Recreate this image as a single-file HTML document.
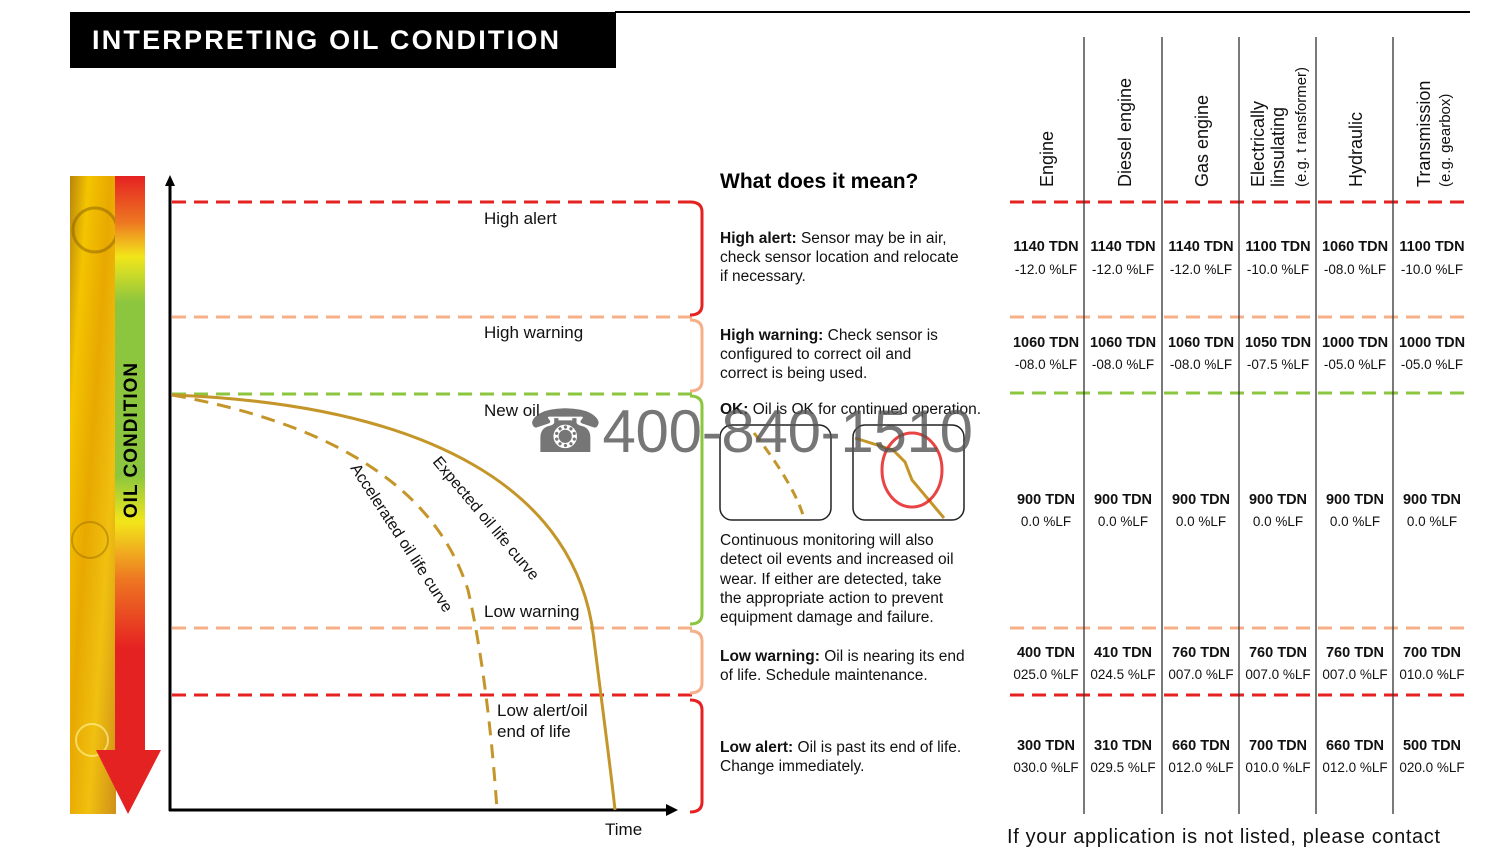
<!DOCTYPE html>
<html><head><meta charset="utf-8"><style>
html,body{margin:0;padding:0;background:#fff;}
svg{display:block;font-family:"Liberation Sans",sans-serif;}
</style></head><body>
<svg width="1497" height="852" viewBox="0 0 1497 852" xmlns="http://www.w3.org/2000/svg">
<defs>
<linearGradient id="oil" x1="0" y1="0" x2="1" y2="1">
<stop offset="0" stop-color="#b8860b"/><stop offset="0.2" stop-color="#f4c400"/><stop offset="0.45" stop-color="#e8a800"/><stop offset="0.7" stop-color="#f0c010"/><stop offset="1" stop-color="#d09018"/>
</linearGradient>
<linearGradient id="bar" x1="0" y1="0" x2="0" y2="1">
<stop offset="0" stop-color="#e52222"/><stop offset="0.08" stop-color="#ee7722"/><stop offset="0.14" stop-color="#f2e61a"/><stop offset="0.22" stop-color="#8cc63f"/><stop offset="0.52" stop-color="#8cc63f"/><stop offset="0.6" stop-color="#f2e61a"/><stop offset="0.7" stop-color="#ee7722"/><stop offset="0.82" stop-color="#e52222"/><stop offset="1" stop-color="#e52222"/>
</linearGradient>
</defs>
<rect x="70" y="12" width="546" height="56" fill="#000"/>
<text x="92" y="49" fill="#fff" font-size="27" font-weight="bold" letter-spacing="2.2">INTERPRETING OIL CONDITION</text>
<line x1="615" y1="12" x2="1470" y2="12" stroke="#000" stroke-width="2"/>
<rect x="70" y="176" width="46" height="638" fill="url(#oil)"/>
<circle cx="95" cy="230" r="22" fill="none" stroke="#8a6000" stroke-width="3" opacity="0.5"/>
<circle cx="90" cy="540" r="18" fill="none" stroke="#8a6000" stroke-width="2" opacity="0.4"/>
<circle cx="92" cy="740" r="16" fill="none" stroke="#fff6a0" stroke-width="2" opacity="0.6"/>
<rect x="115" y="176" width="30" height="576" fill="url(#bar)"/>
<polygon points="96,750 161,750 128,814" fill="#e52222"/>
<text transform="translate(137,440) rotate(-90)" text-anchor="middle" font-size="19" font-weight="bold" letter-spacing="1">OIL CONDITION</text>
<line x1="170" y1="184" x2="170" y2="811" stroke="#000" stroke-width="3"/>
<polygon points="165,186 175,186 170,175" fill="#000"/>
<line x1="169" y1="810" x2="668" y2="810" stroke="#000" stroke-width="3"/>
<polygon points="666,804 666,816 678,810" fill="#000"/>
<g stroke-width="3" stroke-dasharray="14 8" fill="none">
<line x1="172" y1="202" x2="700" y2="202" stroke="#e52222"/>
<line x1="172" y1="317" x2="700" y2="317" stroke="#f5b08a"/>
<line x1="172" y1="394" x2="700" y2="394" stroke="#8cc63f"/>
<line x1="172" y1="628" x2="700" y2="628" stroke="#f5b08a"/>
<line x1="172" y1="695" x2="700" y2="695" stroke="#e52222"/>
<line x1="1010" y1="202" x2="1470" y2="202" stroke="#e52222"/>
<line x1="1010" y1="317" x2="1470" y2="317" stroke="#f5b08a"/>
<line x1="1010" y1="393" x2="1470" y2="393" stroke="#8cc63f"/>
<line x1="1010" y1="628" x2="1470" y2="628" stroke="#f5b08a"/>
<line x1="1010" y1="695" x2="1470" y2="695" stroke="#e52222"/>
</g>
<g fill="none" stroke-width="3">
<path d="M690,202 Q702,202 702,212 L702,305 Q702,315 690,315" stroke="#e52222"/>
<path d="M690,320 Q702,320 702,330 L702,381 Q702,391 690,391" stroke="#f5b08a"/>
<path d="M690,396 Q702,396 702,406 L702,614 Q702,624 690,624" stroke="#8cc63f"/>
<path d="M690,631 Q702,631 702,641 L702,683 Q702,693 690,693" stroke="#f5b08a"/>
<path d="M690,700 Q702,700 702,710 L702,802 Q702,812 690,812" stroke="#e52222"/>
</g>
<path d="M172,395 C430,405 578,490 594,640 C604,720 612,780 615,810" fill="none" stroke="#c4962a" stroke-width="3"/>
<path d="M172,395 C300,418 430,470 468,590 C484,660 493,750 497,810" fill="none" stroke="#c4962a" stroke-width="3" stroke-dasharray="14 9"/>
<g font-size="17" fill="#111">
<text x="484" y="224">High alert</text>
<text x="484" y="338">High warning</text>
<text x="484" y="416">New oil</text>
<text x="484" y="617">Low warning</text>
<text x="497" y="716">Low alert/oil</text>
<text x="497" y="737">end of life</text>
<text x="605" y="835">Time</text>
<text transform="translate(432,462) rotate(50)" font-size="16">Expected oil life curve</text>
<text transform="translate(350,468) rotate(57)" font-size="16">Accelerated oil life curve</text>
</g>
<text x="720" y="188" font-size="21" font-weight="bold">What does it mean?</text>
<g font-size="15.5" fill="#111">
<text x="720" y="243"><tspan font-weight="bold">High alert:</tspan> Sensor may be in air,</text>
<text x="720" y="262">check sensor location and relocate</text>
<text x="720" y="281">if necessary.</text>
<text x="720" y="340"><tspan font-weight="bold">High warning:</tspan> Check sensor is</text>
<text x="720" y="359">configured to correct oil and</text>
<text x="720" y="378">correct is being used.</text>
<text x="720" y="414"><tspan font-weight="bold">OK:</tspan> Oil is OK for continued operation.</text>
<text x="720" y="545">Continuous monitoring will also</text>
<text x="720" y="564">detect oil events and increased oil</text>
<text x="720" y="584">wear. If either are detected, take</text>
<text x="720" y="603">the appropriate action to prevent</text>
<text x="720" y="622">equipment damage and failure.</text>
<text x="720" y="661"><tspan font-weight="bold">Low warning:</tspan> Oil is nearing its end</text>
<text x="720" y="680">of life. Schedule maintenance.</text>
<text x="720" y="752"><tspan font-weight="bold">Low alert:</tspan> Oil is past its end of life.</text>
<text x="720" y="771">Change immediately.</text>
</g>
<rect x="720" y="425" width="111" height="95" rx="12" fill="none" stroke="#222" stroke-width="1.5"/>
<path d="M754,433 C775,460 795,490 803,515" fill="none" stroke="#c4962a" stroke-width="3" stroke-dasharray="10 7"/>
<rect x="853" y="425" width="111" height="95" rx="12" fill="none" stroke="#222" stroke-width="1.5"/>
<path d="M855,438 L893,450 L905,462 L912,480 L944,518" fill="none" stroke="#c4962a" stroke-width="3"/>
<ellipse cx="912" cy="470" rx="30" ry="37" fill="none" stroke="#e52222" stroke-width="3" opacity="0.85"/>
<text x="528" y="452" font-size="60" fill="#555" opacity="0.8" textLength="445">☎400-840-1510</text>
<g stroke="#333" stroke-width="1.3">
<line x1="1084" y1="37" x2="1084" y2="814"/>
<line x1="1162" y1="37" x2="1162" y2="814"/>
<line x1="1239" y1="37" x2="1239" y2="814"/>
<line x1="1316" y1="37" x2="1316" y2="814"/>
<line x1="1393" y1="37" x2="1393" y2="814"/>
</g>
<g font-size="18" fill="#111">
<text transform="translate(1053,187) rotate(-90)">Engine</text>
<text transform="translate(1131,187) rotate(-90)">Diesel engine</text>
<text transform="translate(1208,187) rotate(-90)">Gas engine</text>
<text transform="translate(1264,187) rotate(-90)">Electrically</text>
<text transform="translate(1284,187) rotate(-90)">linsulating</text>
<text transform="translate(1306,187) rotate(-90)" font-size="15">(e.g. t ransformer)</text>
<text transform="translate(1362,187) rotate(-90)">Hydraulic</text>
<text transform="translate(1430,187) rotate(-90)">Transmission</text>
<text transform="translate(1450,187) rotate(-90)" font-size="15">(e.g. gearbox)</text>
</g>
<g font-size="14.5" text-anchor="middle" fill="#111">
<g font-weight="bold">
<text x="1046" y="251">1140 TDN</text><text x="1123" y="251">1140 TDN</text><text x="1201" y="251">1140 TDN</text><text x="1278" y="251">1100 TDN</text><text x="1355" y="251">1060 TDN</text><text x="1432" y="251">1100 TDN</text>
<text x="1046" y="347">1060 TDN</text><text x="1123" y="347">1060 TDN</text><text x="1201" y="347">1060 TDN</text><text x="1278" y="347">1050 TDN</text><text x="1355" y="347">1000 TDN</text><text x="1432" y="347">1000 TDN</text>
<text x="1046" y="504">900 TDN</text><text x="1123" y="504">900 TDN</text><text x="1201" y="504">900 TDN</text><text x="1278" y="504">900 TDN</text><text x="1355" y="504">900 TDN</text><text x="1432" y="504">900 TDN</text>
<text x="1046" y="657">400 TDN</text><text x="1123" y="657">410 TDN</text><text x="1201" y="657">760 TDN</text><text x="1278" y="657">760 TDN</text><text x="1355" y="657">760 TDN</text><text x="1432" y="657">700 TDN</text>
<text x="1046" y="750">300 TDN</text><text x="1123" y="750">310 TDN</text><text x="1201" y="750">660 TDN</text><text x="1278" y="750">700 TDN</text><text x="1355" y="750">660 TDN</text><text x="1432" y="750">500 TDN</text>
</g>
<g font-size="13.5">
<text x="1046" y="274">-12.0 %LF</text><text x="1123" y="274">-12.0 %LF</text><text x="1201" y="274">-12.0 %LF</text><text x="1278" y="274">-10.0 %LF</text><text x="1355" y="274">-08.0 %LF</text><text x="1432" y="274">-10.0 %LF</text>
<text x="1046" y="369">-08.0 %LF</text><text x="1123" y="369">-08.0 %LF</text><text x="1201" y="369">-08.0 %LF</text><text x="1278" y="369">-07.5 %LF</text><text x="1355" y="369">-05.0 %LF</text><text x="1432" y="369">-05.0 %LF</text>
<text x="1046" y="526">0.0 %LF</text><text x="1123" y="526">0.0 %LF</text><text x="1201" y="526">0.0 %LF</text><text x="1278" y="526">0.0 %LF</text><text x="1355" y="526">0.0 %LF</text><text x="1432" y="526">0.0 %LF</text>
<text x="1046" y="679">025.0 %LF</text><text x="1123" y="679">024.5 %LF</text><text x="1201" y="679">007.0 %LF</text><text x="1278" y="679">007.0 %LF</text><text x="1355" y="679">007.0 %LF</text><text x="1432" y="679">010.0 %LF</text>
<text x="1046" y="772">030.0 %LF</text><text x="1123" y="772">029.5 %LF</text><text x="1201" y="772">012.0 %LF</text><text x="1278" y="772">010.0 %LF</text><text x="1355" y="772">012.0 %LF</text><text x="1432" y="772">020.0 %LF</text>
</g>
</g>
<text x="1007" y="843" font-size="20" fill="#111" textLength="433">If your application is not listed, please contact</text>
</svg>
</body></html>
